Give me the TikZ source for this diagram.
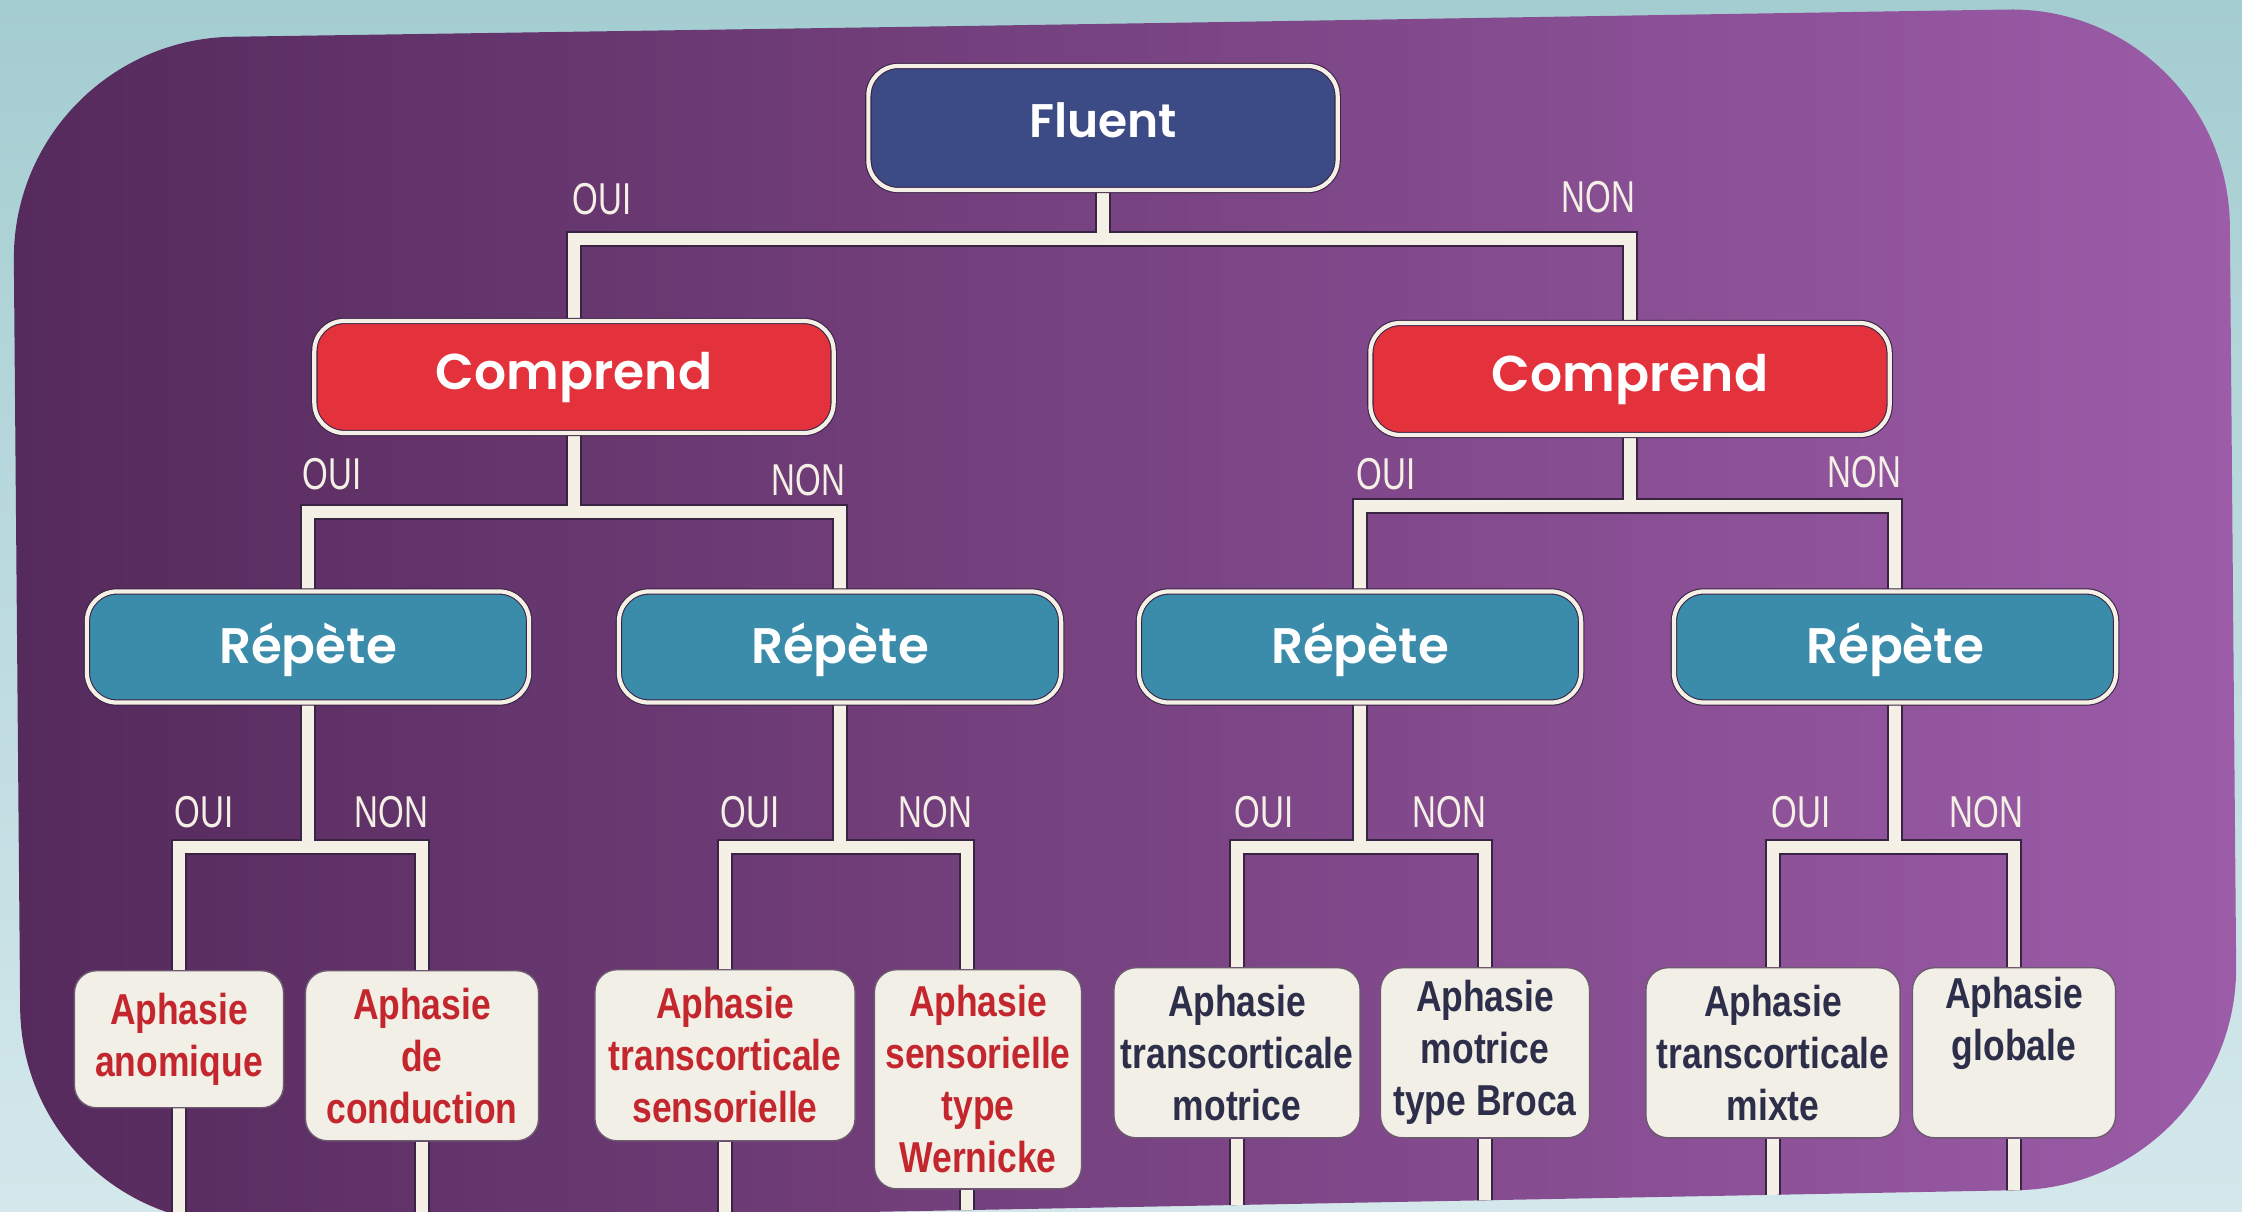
\documentclass[tikz,border=0pt]{standalone}
\usepackage{fontspec}
\newfontfamily\popfont{Poppins}[BoldFont=Poppins SemiBold]
\newfontfamily\labfont[FakeStretch=0.74]{Liberation Sans}
\newfontfamily\leaffont[FakeStretch=0.82]{Liberation Sans}
\definecolor{bgtop}{HTML}{A4CDD1}
\definecolor{bgbot}{HTML}{D4E8EC}
\definecolor{panL}{HTML}{552A5C}
\definecolor{panM}{HTML}{6C3879}
\definecolor{panR}{HTML}{9C5CA8}
\definecolor{navy}{HTML}{3C4A86}
\definecolor{redbox}{HTML}{E4323C}
\definecolor{bluebox}{HTML}{3B8CAB}
\definecolor{cream}{HTML}{F4F0E6}
\definecolor{edge}{HTML}{3A2444}
\definecolor{leafbg}{HTML}{F2EFE6}
\definecolor{leafedge}{HTML}{6E5A70}
\definecolor{leafred}{HTML}{C4262E}
\definecolor{leafnavy}{HTML}{2D2E4A}
\pgfdeclarelayer{panel}
\pgfdeclarelayer{lines}
\pgfsetlayers{panel,lines,main}
\tikzset{
  cbox/.style={rounded corners=0.3cm, draw=edge, line width=0.3pt, double=cream,
    double distance=1.2pt, text=white, inner sep=0pt},
  fluentbox/.style={cbox, fill=navy, minimum width=4.69cm, minimum height=1.24cm,
    text height=0.34cm, text depth=0.16cm,
    font=\popfont\bfseries\fontsize{13.4pt}{16pt}\selectfont},
  compbox/.style={cbox, fill=redbox, minimum width=5.19cm, minimum height=1.12cm,
    text height=0.35cm, text depth=0.10cm,
    font=\popfont\bfseries\fontsize{14.3pt}{17pt}\selectfont},
  repbox/.style={cbox, fill=bluebox, minimum width=4.42cm, minimum height=1.11cm,
    text height=0.33cm, text depth=0cm,
    font=\popfont\bfseries\fontsize{14.2pt}{16pt}\selectfont},
  leafbox/.style={rounded corners=0.22cm, fill=leafbg, draw=leafedge, line width=0.4pt,
    align=center, inner sep=0pt, anchor=north,
    font=\leaffont\bfseries\fontsize{12.3pt}{14.8pt}\selectfont},
  redleaf/.style={leafbox, text=leafred},
  navyleaf/.style={leafbox, text=leafnavy},
  lab/.style={text=cream, inner sep=0pt, font=\labfont\fontsize{12.7pt}{14pt}\selectfont},
  conn/.style={draw=cream, line width=3.4pt, preaction={draw=edge, line width=4.3pt}},
}
\begin{document}
\begin{tikzpicture}[x=0.01cm, y=-0.01cm]
\useasboundingbox (0,0) rectangle (2242,1212);
\begin{pgfonlayer}{panel}
  \shade[top color=bgtop, bottom color=bgbot] (0,0) rectangle (2242,1212);
  \shade[left color=panL, middle color=panM, right color=panR, rounded corners=2.2cm]
    (1100,24) -- (2228,6) -- (2238,1186) -- (22,1228) -- (12,40) -- cycle;
\end{pgfonlayer}

% named levels
\coordinate (y1) at (0,239);
\coordinate (y2L) at (0,512);
\coordinate (y2R) at (0,506);
\coordinate (y3) at (0,847);
\coordinate (bot) at (0,1290);

% decision nodes
\node[fluentbox] (F) at (1103,128) {Fluent};
\node[compbox] (CL) at (574,377) {Comprend};
\node[compbox] (CR) at (1630,379) {Comprend};
\node[repbox] (R1) at (308,647) {Répète};
\node[repbox] (R2) at (840,647) {Répète};
\node[repbox] (R3) at (1360,647) {Répète};
\node[repbox] (R4) at (1895,647) {Répète};

% leaves
\node[redleaf, minimum width=2.09cm, minimum height=1.37cm] (L1) at (179,970) {Aphasie\\anomique};
\node[redleaf, minimum width=2.33cm, minimum height=1.70cm] (L2) at (422,970) {Aphasie\\de\\conduction};
\node[redleaf, minimum width=2.60cm, minimum height=1.71cm] (L3) at (725,969) {Aphasie\\transcorticale\\sensorielle};
\node[redleaf, minimum width=2.07cm, minimum height=2.19cm] (L4) at (978,969) {Aphasie\\sensorielle\\type\\Wernicke};
\node[navyleaf, minimum width=2.46cm, minimum height=1.70cm] (L5) at (1237,967) {Aphasie\\transcorticale\\motrice};
\node[navyleaf, minimum width=2.09cm, minimum height=1.70cm] (L6) at (1485,967) {Aphasie\\motrice\\type Broca};
\node[navyleaf, minimum width=2.54cm, minimum height=1.70cm] (L7) at (1773,967) {Aphasie\\transcorticale\\mixte};
\node[navyleaf, minimum width=2.03cm, minimum height=1.70cm] (L8) at (2014,967) {Aphasie\\globale\\\strut};
\coordinate (L4t) at ([xshift=-0.11cm]L4.north);
\coordinate (L4b) at ([xshift=-0.11cm]L4.south);

% labels
\node[lab, anchor=base west] (o1) at (572,214) {OUI};
\node[lab, anchor=base east] (n1) at (1636,212) {NON};
\node[lab, anchor=base west] (o2a) at (302,489) {OUI};
\node[lab, anchor=base east] (n2a) at (846,495) {NON};
\node[lab, anchor=base west] (o2b) at (1356,489) {OUI};
\node[lab, anchor=base east] (n2b) at (1902,487) {NON};
\node[lab, anchor=base west] (o3a) at (174,827) {OUI};
\node[lab, anchor=base east] (n3a) at (429,827) {NON};
\node[lab, anchor=base west] (o3b) at (720,827) {OUI};
\node[lab, anchor=base east] (n3b) at (973,827) {NON};
\node[lab, anchor=base west] (o3c) at (1234,827) {OUI};
\node[lab, anchor=base east] (n3c) at (1487,827) {NON};
\node[lab, anchor=base west] (o3d) at (1771,827) {OUI};
\node[lab, anchor=base east] (n3d) at (2024,827) {NON};

\begin{pgfonlayer}{lines}
  \draw[conn] (F.south) -- (F.south |- y1) (CL.north) |- (CR.north |- y1) -- (CR.north);
  \draw[conn] (CL.south) -- (CL.south |- y2L) (R1.north) |- (R2.north |- y2L) -- (R2.north);
  \draw[conn] (CR.south) -- (CR.south |- y2R) (R3.north) |- (R4.north |- y2R) -- (R4.north);
  \draw[conn] (R1.south) -- (R1.south |- y3) (L1.north) |- (L2.north |- y3) -- (L2.north);
  \draw[conn] (R2.south) -- (R2.south |- y3) (L3.north) |- (L4t |- y3) -- (L4t);
  \draw[conn] (R3.south) -- (R3.south |- y3) (L5.north) |- (L6.north |- y3) -- (L6.north);
  \draw[conn] (R4.south) -- (R4.south |- y3) (L7.north) |- (L8.north |- y3) -- (L8.north);
  \begin{scope}
    \clip[rounded corners=2.2cm] (1100,24) -- (2228,6) -- (2238,1186) -- (22,1228) -- (12,40) -- cycle;
    \draw[conn] (L1.south) -- (L1.south |- bot);
    \draw[conn] (L2.south) -- (L2.south |- bot);
    \draw[conn] (L3.south) -- (L3.south |- bot);
    \draw[conn] (L4b) -- (L4b |- bot);
    \draw[conn] (L5.south) -- (L5.south |- bot);
    \draw[conn] (L6.south) -- (L6.south |- bot);
    \draw[conn] (L7.south) -- (L7.south |- bot);
    \draw[conn] (L8.south) -- (L8.south |- bot);
  \end{scope}
\end{pgfonlayer}
\end{tikzpicture}
\end{document}
